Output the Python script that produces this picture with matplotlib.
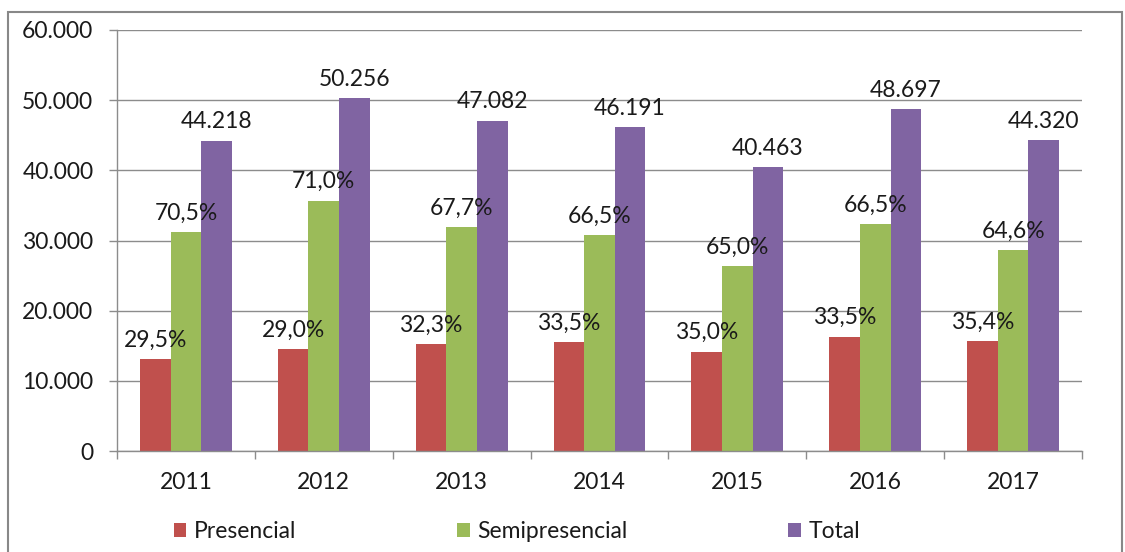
import numpy as np
import matplotlib
matplotlib.use("Agg")
import matplotlib.pyplot as plt
from matplotlib.patches import Rectangle

plt.rcParams['font.family'] = ['Lato', 'DejaVu Sans']

years = ['2011', '2012', '2013', '2014', '2015', '2016', '2017']
presencial = [13044, 14574, 15207, 15474, 14162, 16313, 15689]
semipresencial = [31174, 35682, 31875, 30717, 26301, 32384, 28631]
total = [44218, 50256, 47082, 46191, 40463, 48697, 44320]
pct_presencial = ['29,5%', '29,0%', '32,3%', '33,5%', '35,0%', '33,5%', '35,4%']
pct_semi = ['70,5%', '71,0%', '67,7%', '66,5%', '65,0%', '66,5%', '64,6%']
total_lbl = ['44.218', '50.256', '47.082', '46.191', '40.463', '48.697', '44.320']

c_red = '#C0504D'
c_green = '#9BBB59'
c_purple = '#8064A2'
grid_c = '#8C8C8C'
txt_c = '#1a1a1a'
fs = 16.5

fig = plt.figure(figsize=(11.25, 5.52), dpi=100)
ax = fig.add_axes([117/1125, 1 - 451/552, (1082-117)/1125, (451-30)/552])

x = np.arange(len(years))
w = 0.222
b1 = ax.bar(x - w, presencial, w, color=c_red, label='Presencial', zorder=2)
b2 = ax.bar(x, semipresencial, w, color=c_green, label='Semipresencial', zorder=2)
b3 = ax.bar(x + w, total, w, color=c_purple, label='Total', zorder=2)

# etiquetas encima de cada barra
for bars, labs in [(b1, pct_presencial), (b2, pct_semi), (b3, total_lbl)]:
    for r, t in zip(bars, labs):
        ax.annotate(t, (r.get_x() + r.get_width()/2, r.get_height()),
                    xytext=(0, 6), textcoords='offset points',
                    ha='center', va='bottom', fontsize=fs, color=txt_c, zorder=5)

ax.set_xlim(-0.5, len(years) - 0.5)
ax.set_ylim(0, 60000)
ax.set_yticks(np.arange(0, 60001, 10000))
ax.set_yticklabels(['0' if v == 0 else f'{v//1000}.000' for v in range(0, 60001, 10000)])
ax.set_xticks(x)
ax.set_xticklabels(years)
ax.set_xticks(np.arange(-0.5, len(years)), minor=True)
ax.tick_params(axis='x', which='major', length=0, pad=15, labelsize=fs, colors=txt_c)
ax.tick_params(axis='x', which='minor', length=6, width=1, color=grid_c)
ax.tick_params(axis='y', length=6, width=1, color=grid_c, pad=11, labelsize=fs, labelcolor=txt_c)

ax.yaxis.grid(True, color=grid_c, lw=1, zorder=0)
ax.set_axisbelow(True)
for s in ['top', 'right']:
    ax.spines[s].set_visible(False)
for s in ['left', 'bottom']:
    ax.spines[s].set_color(grid_c)
    ax.spines[s].set_linewidth(1)

leg = fig.legend(handles=[b1, b2, b3], loc='center', bbox_to_anchor=(517/1125, 1 - 532/552),
                 ncol=3, frameon=False, fontsize=fs, handlelength=0.55, handleheight=0.55,
                 handletextpad=0.35, columnspacing=7.0)
for t in leg.get_texts():
    t.set_color(txt_c)

# marco exterior
fig.patches.append(Rectangle((8/1125, -0.05), (1122-8)/1125, 1 - 12/552 + 0.05,
                             transform=fig.transFigure, fill=False, edgecolor='#888888', lw=1.5))

fig.savefig('out.png', dpi=100)
